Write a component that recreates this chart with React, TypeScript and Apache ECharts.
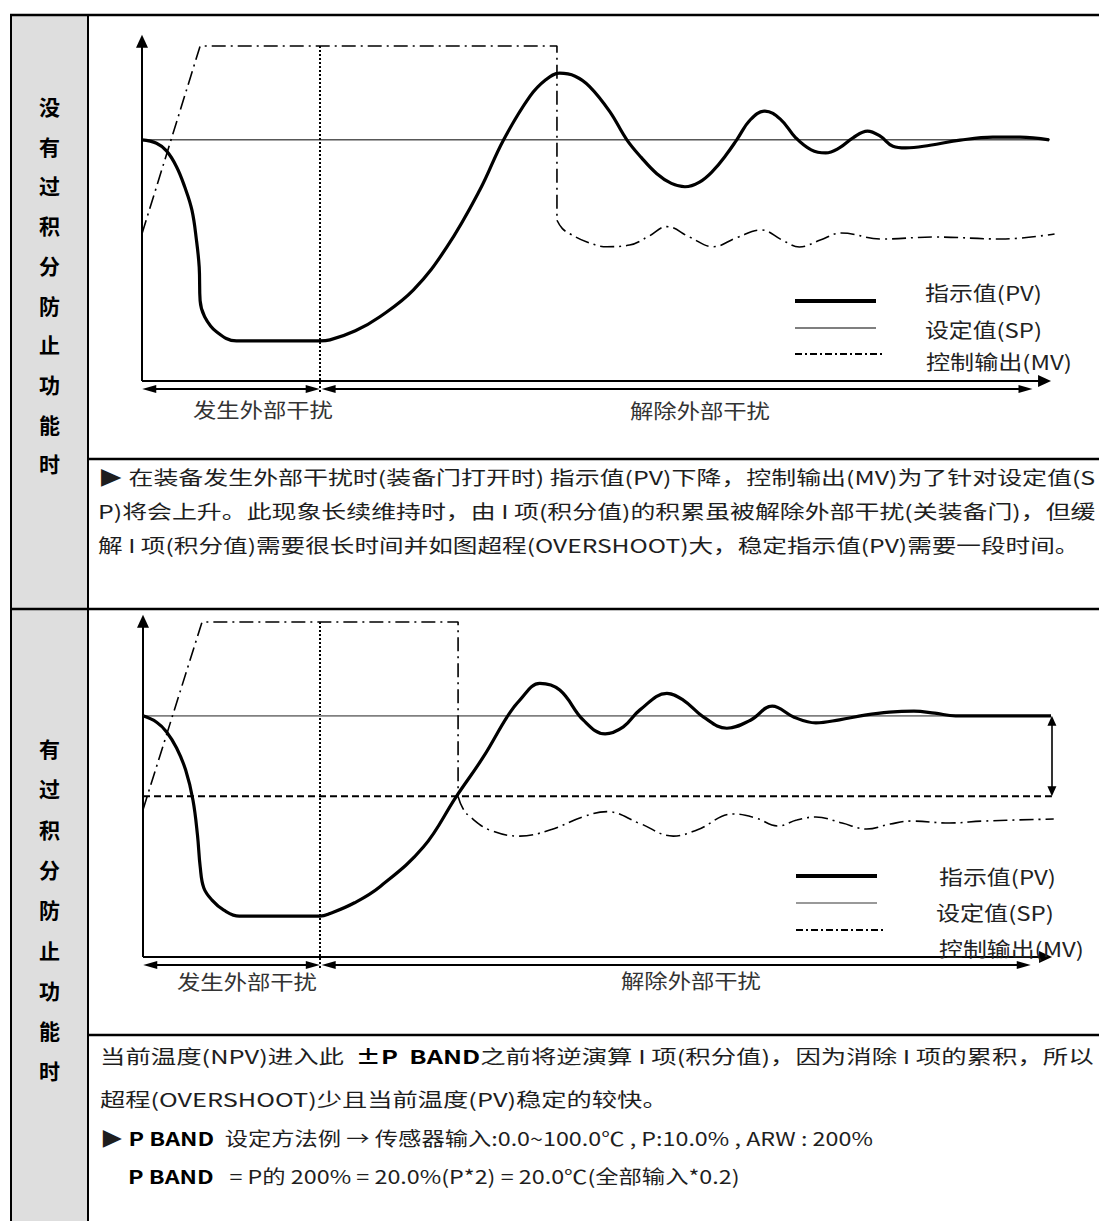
import React, { useEffect, useRef } from "react";
import * as echarts from "echarts";

const FONT = '"Noto Sans CJK SC", "Noto Sans", sans-serif';

// ---------- data (time units 0..100, value units 0..100 %) ----------
const SP = 72;
const PBAND_LOW = 48;

// Chart 1: without anti-reset-windup
const pv1T = [0, 1.6, 2.7, 3.8, 4.7, 5.5, 6.0, 6.3, 6.4, 6.9, 8.2, 10.4, 15.2, 19.6, 20.7, 23.5, 26.2, 29.9, 33.6, 37.2, 39.8, 42.7, 44.5, 46.0, 47.7, 49.3, 51.5, 53.4, 55.0, 56.7, 58.3, 59.8, 61.4, 62.9, 64.3, 65.5, 67.0, 68.6, 70.3, 72.0, 73.7, 75.3, 76.8, 78.3, 79.9, 81.3, 82.7, 84.1, 86.8, 90.1, 93.7, 96.7, 99.9];
const pv1V = [72, 71, 68.7, 64, 58, 51, 42, 34, 24, 19.2, 14.7, 12, 12, 12, 12.3, 15, 19.2, 27.2, 40.1, 57, 71.9, 84.9, 90, 91.9, 91, 87.9, 80.5, 72, 66.7, 61.9, 59, 58, 59.4, 62.8, 67.4, 72, 78.0, 80.6, 78.2, 72.6, 69.0, 68.1, 69.6, 72.6, 74.6, 73.1, 70.1, 69.6, 70.4, 71.9, 72.8, 72.8, 72];
const mv1RampT = [0, 6.4, 45.7, 45.7];
const mv1RampV = [44, 100, 100, 48];
const mv1WaveT = [45.7, 46.3, 47.1, 49.0, 51.2, 53.7, 55.8, 57.8, 60.3, 62.9, 65.5, 68.2, 70.5, 72.4, 74.7, 77.0, 81.4, 87.3, 94.7, 100.5];
const mv1WaveV = [48, 45.5, 44.0, 41.5, 40.1, 40.6, 43.2, 46.1, 43.0, 40.1, 42.8, 45.1, 42.1, 40, 42.1, 44.2, 42.4, 43, 42.4, 43.9];
const release1 = 19.6;
const spanEnd1 = 98.1;

// Chart 2: with anti-reset-windup
const pv2T = [0, 1.5, 2.6, 3.7, 4.7, 5.5, 6.0, 6.3, 6.7, 7.6, 8.9, 10.6, 15.1, 19.5, 20.6, 23.3, 26.1, 30.9, 34.5, 37.5, 40.1, 41.5, 43.7, 45.9, 48.5, 50.9, 52.9, 54.7, 57.7, 59.5, 61.7, 64.3, 66.9, 69.3, 71.7, 74.1, 76.7, 79.5, 82.2, 84.9, 87.2, 89.5, 100];
const pv2V = [72, 70.1, 67.2, 62.4, 55.8, 46.9, 36.4, 26.9, 20.6, 17, 14, 12.2, 12.2, 12.2, 13, 16.2, 21, 32.9, 47.9, 59.8, 71.7, 76.7, 81.7, 79.7, 70.7, 66.6, 68.7, 73.7, 78.7, 76.7, 71.7, 68.3, 70.7, 74.9, 71.6, 69.9, 70.8, 72.2, 73.1, 73.4, 72.8, 72, 72];
const mv2RampT = [0, 6.5, 34.7, 34.7];
const mv2RampV = [44, 100, 100, 47.9];
const mv2WaveT = [34.7, 35.2, 36.0, 38.2, 41.5, 44.8, 48.5, 51.1, 54.7, 58.4, 61.0, 65.0, 67.5, 69.9, 72.0, 74.1, 77.0, 79.7, 82.3, 84.6, 88.8, 92.6, 100.3];
const mv2WaveV = [47.9, 44.5, 41.9, 37.9, 36.1, 37.9, 41.9, 43.4, 39.9, 36.1, 37.9, 42.7, 41.5, 39.1, 40.9, 41.8, 40.0, 38.2, 39.7, 40.6, 40.0, 40.6, 41.2];
const release2 = 19.5;
const spanEnd2 = 97.8;

// ---------- texts ----------
const sideTitle1 = "没有过积分防止功能时";
const sideTitle2 = "有过积分防止功能时";
const legendNames = ["指示值(PV)", "设定值(SP)", "控制输出(MV)"];
const spanNames = ["发生外部干扰", "解除外部干扰"];

type Seg = { t: string; b?: boolean };
const notes1: Seg[][] = [
  [{ t: "▶ 在装备发生外部干扰时(装备门打开时) 指示值(PV)下降，控制输出(MV)为了针对设定值(S" }],
  [{ t: "P)将会上升。此现象长续维持时，由 I 项(积分值)的积累虽被解除外部干扰(关装备门)，但缓" }],
  [{ t: "解 I 项(积分值)需要很长时间并如图超程(OVERSHOOT)大，稳定指示值(PV)需要一段时间。" }],
];
const notes2: Seg[][] = [
  [{ t: "当前温度(NPV)进入此  " }, { t: "±P  BAND", b: true }, { t: "之前将逆演算 I 项(积分值)，因为消除 I 项的累积，所以" }],
  [{ t: "超程(OVERSHOOT)少且当前温度(PV)稳定的较快。" }],
  [{ t: "▶ " }, { t: "P BAND", b: true }, { t: "  设定方法例 → 传感器输入:0.0~100.0℃ , P:10.0% , ARW : 200%" }],
  [{ t: "P BAND", b: true }, { t: "   = P的 200% = 20.0%(P*2) = 20.0℃(全部输入*0.2)" }],
];

// ---------- helpers ----------
const zip = (a: number[], b: number[]) => a.map((x, i) => [x, b[i]]);

let ctx: CanvasRenderingContext2D | null = null;
function textWidth(s: string, size: number, weight: string) {
  if (!ctx) ctx = document.createElement("canvas").getContext("2d");
  ctx!.font = `${weight} ${size}px ${FONT}`;
  return ctx!.measureText(s).width;
}

function textEl(text: string, x: number, y: number, size: number, weight: string, color: string, align: string, scaleX = 1) {
  return {
    type: "text",
    x,
    y,
    scaleX,
    silent: true,
    z: 20,
    style: {
      text,
      fill: color,
      font: `${weight} ${size}px ${FONT}`,
      fontSize: size,
      fontFamily: FONT,
      fontWeight: weight,
      align,
      verticalAlign: "middle",
      textAlign: align,
      textVerticalAlign: "middle",
    },
  };
}

function fitLine(segs: Seg[], x0: number, x1: number, y: number, size: number, color: string) {
  const ws = segs.map((s) => textWidth(s.t, size, s.b ? "bold" : "normal"));
  const total = ws.reduce((a, b) => a + b, 0);
  const k = (x1 - x0) / total;
  let x = x0;
  return segs.map((s, i) => {
    const el = textEl(s.t, x, y, size, s.b ? "bold" : "normal", s.b ? "#000" : color, "left", k);
    x += ws[i] * k;
    return el;
  });
}

function fitCenter(text: string, cx: number, w: number, y: number, size: number, color: string) {
  const nat = textWidth(text, size, "normal");
  const k = w / nat;
  return textEl(text, cx - w / 2, y, size, "normal", color, "left", k);
}

function hline(x1: number, y1: number, x2: number, y2: number, w: number, color = "#000", dash?: number[]) {
  return {
    type: "line",
    silent: true,
    z: 15,
    shape: { x1, y1, x2, y2 },
    style: { stroke: color, lineWidth: w, lineDash: dash },
  };
}

function frameMarks(release: number, spanEnd: number, yTop: number, withBand: boolean) {
  const arrowS = [8, 14];
  const data: any[] = [
    [{ coord: [0, 0], symbol: "none" }, { coord: [0, yTop], symbol: "triangle", symbolSize: [12, 13] }],
    [{ coord: [0, 0], symbol: "none" }, { coord: [99.4, 0], symbol: "triangle", symbolSize: [12, 13] }],
    [
      { coord: [release, 100], symbol: "none", lineStyle: { type: [2, 2], width: 2, color: "#000" } },
      { coord: [release, -3.3], symbol: "none" },
    ],
    [
      { coord: [0.8, -2.4], symbol: "triangle", symbolSize: arrowS, lineStyle: { width: 1.8 } },
      { coord: [release - 0.8, -2.4], symbol: "triangle", symbolSize: arrowS },
    ],
    [
      { coord: [release + 0.95, -2.4], symbol: "triangle", symbolSize: arrowS, lineStyle: { width: 1.8 } },
      { coord: [spanEnd - 0.8, -2.4], symbol: "triangle", symbolSize: arrowS },
    ],
  ];
  if (withBand) {
    data.push([
      { coord: [100.1, SP - 1.5], symbol: "triangle", symbolSize: [9, 10], lineStyle: { width: 1.6 } },
      { coord: [100.1, PBAND_LOW + 1.5], symbol: "triangle", symbolSize: [9, 10] },
    ]);
  }
  return {
    silent: true,
    animation: false,
    label: { show: false },
    emphasis: { disabled: true },
    symbol: ["none", "none"],
    lineStyle: { type: "solid", color: "#000", width: 2 },
    itemStyle: { color: "#000" },
    data,
  };
}

function buildOption() {
  const U = 9.08;
  const V = 3.35;
  const y1Max = 103.3;
  const y2Max = 102.1;
  const yMin = -5;

  const base = { type: "line", symbol: "none", silent: true, animation: false, clip: false, z: 5 };
  const mvStyle = { color: "#000", width: 1.6, type: [14, 5, 2, 5] };

  const series: any[] = [];
  [0, 1].forEach((g) => {
    const pvT = g === 0 ? pv1T : pv2T;
    const pvV = g === 0 ? pv1V : pv2V;
    const rT = g === 0 ? mv1RampT : mv2RampT;
    const rV = g === 0 ? mv1RampV : mv2RampV;
    const wT = g === 0 ? mv1WaveT : mv2WaveT;
    const wV = g === 0 ? mv1WaveV : mv2WaveV;
    series.push({
      ...base,
      name: "设定值(SP)",
      xAxisIndex: g,
      yAxisIndex: g,
      data: [[0, SP], [100, SP]],
      lineStyle: { color: g === 0 ? "#000" : "#808080", width: g === 0 ? 1 : 1.6 },
      markLine: frameMarks(g === 0 ? release1 : release2, g === 0 ? spanEnd1 : spanEnd2, (g === 0 ? y1Max : y2Max) - 1.9, g === 1),
    });
    if (g === 1) {
      series.push({
        ...base,
        name: "P BAND",
        xAxisIndex: g,
        yAxisIndex: g,
        data: [[0, PBAND_LOW], [100.1, PBAND_LOW]],
        lineStyle: { color: "#000", width: 2, type: [7, 4] },
      });
    }
    series.push({
      ...base,
      name: "控制输出(MV)",
      xAxisIndex: g,
      yAxisIndex: g,
      data: zip(rT, rV),
      lineStyle: mvStyle,
    });
    series.push({
      ...base,
      name: "控制输出(MV)",
      xAxisIndex: g,
      yAxisIndex: g,
      data: zip(wT, wV),
      smooth: 0.4,
      lineStyle: mvStyle,
    });
    series.push({
      ...base,
      name: "指示值(PV)",
      xAxisIndex: g,
      yAxisIndex: g,
      data: zip(pvT, pvV),
      smooth: 0.4,
      z: 6,
      lineStyle: { color: "#000", width: 3.2 },
    });
  });

  // ---------- table and annotations ----------
  const els: any[] = [];
  els.push({ type: "rect", silent: true, z: 1, shape: { x: 11, y: 15, width: 77, height: 1206 }, style: { fill: "#dedede" } });
  els.push(hline(10, 15, 1099, 15, 2.5));
  els.push(hline(11, 15, 11, 1221, 2));
  els.push(hline(88, 15, 88, 1221, 2));
  els.push(hline(88, 459, 1099, 459, 2.5));
  els.push(hline(11, 609, 1099, 609, 2.5));
  els.push(hline(88, 1035, 1099, 1035, 2.5));

  Array.from(sideTitle1).forEach((c, i) => els.push(textEl(c, 49.5, 106 + 39.7 * i, 21, "bold", "#000", "center")));
  Array.from(sideTitle2).forEach((c, i) => els.push(textEl(c, 49.5, 748 + 40.3 * i, 21, "bold", "#000", "center")));

  const n1Layout = [[98, 1096, 476], [98, 1096, 510], [98, 1080, 544]];
  notes1.forEach((segs, i) => els.push(...fitLine(segs, n1Layout[i][0], n1Layout[i][1], n1Layout[i][2], 19, "#1e1e1e")));
  const n2Layout = [[100, 1094, 1056], [100, 668, 1099], [100, 873, 1138], [128, 740, 1176]];
  notes2.forEach((segs, i) => els.push(...fitLine(segs, n2Layout[i][0], n2Layout[i][1], n2Layout[i][2], 19, "#1e1e1e")));

  // span labels
  els.push(fitCenter(spanNames[0], 263, 140, 409, 20, "#333"));
  els.push(fitCenter(spanNames[1], 700, 140, 410, 20, "#333"));
  els.push(fitCenter(spanNames[0], 247, 140, 981, 20, "#333"));
  els.push(fitCenter(spanNames[1], 691, 140, 980, 20, "#333"));

  // legends
  const legends = [
    { lines: [301, 328, 354], texts: [[925, 1042, 292], [925, 1042, 329], [926, 1072, 361]], x1: 795 },
    { lines: [876, 903, 930], texts: [[939, 1056, 876], [936, 1054, 912], [939, 1084, 948]], x1: 796 },
  ];
  legends.forEach((lg, g) => {
    els.push(hline(lg.x1, lg.lines[0], lg.x1 + 81, lg.lines[0], 4, "#000"));
    els.push(hline(lg.x1, lg.lines[1], lg.x1 + 81, lg.lines[1], 1.3, g === 0 ? "#555" : "#777"));
    els.push(hline(lg.x1, lg.lines[2], lg.x1 + 87, lg.lines[2], 1.8, "#000", [7, 3, 2, 3]));
    legendNames.forEach((name, i) => {
      const t = lg.texts[i];
      const nat = textWidth(name, 20, "normal");
      els.push(textEl(name, t[0], t[2], 20, "normal", "#222", "left", (t[1] - t[0]) / nat));
    });
  });

  return {
    animation: false,
    backgroundColor: "#ffffff",
    grid: [
      { left: 142, top: 35, width: 101 * U, height: (y1Max - yMin) * V },
      { left: 143, top: 615, width: 101 * U, height: (y2Max - yMin) * V },
    ],
    xAxis: [0, 1].map((g) => ({ gridIndex: g, type: "value", min: 0, max: 101, show: false })),
    yAxis: [
      { gridIndex: 0, type: "value", min: yMin, max: y1Max, show: false },
      { gridIndex: 1, type: "value", min: yMin, max: y2Max, show: false },
    ],
    series,
    graphic: { elements: els },
  };
}

export default function App() {
  const ref = useRef<HTMLDivElement>(null);
  useEffect(() => {
    document.body.style.margin = "0";
    const chart = echarts.init(ref.current!, null, { renderer: "svg" });
    chart.setOption(buildOption() as any);
    return () => chart.dispose();
  }, []);
  return <div ref={ref} style={{ width: 1099, height: 1221 }} />;
}
